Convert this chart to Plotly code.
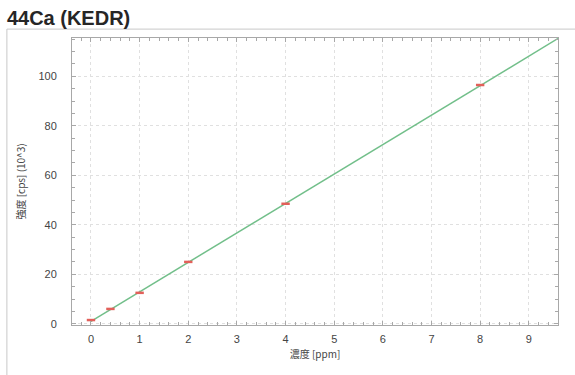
import plotly.graph_objects as go

# Calibration standards (concentration ppm, intensity cps x10^3)
std_conc = [0, 0.4, 1, 2, 4, 8]
std_intensity = [1.5, 6.0, 12.5, 25.0, 48.5, 96.5]

# Calibration line endpoints
fit_conc = [0, 9.6]
fit_intensity = [1.0, 115.3]

x_ticks = [0, 1, 2, 3, 4, 5, 6, 7, 8, 9]
y_ticks = [0, 20, 40, 60, 80, 100]

fig = go.Figure()
fig.add_trace(go.Scatter(
    x=fit_conc, y=fit_intensity, mode="lines",
    line=dict(color="#72bf8a", width=1.5), showlegend=False, hoverinfo="skip"))
fig.add_trace(go.Scatter(
    x=std_conc, y=std_intensity, mode="markers",
    marker=dict(symbol="line-ew", size=6, line=dict(color="#e2605a", width=2.5)),
    showlegend=False))

axis_common = dict(
    showline=True, linecolor="#a8a8a8", linewidth=1, mirror="ticks",
    showgrid=True, gridcolor="#e0e0e0", griddash="dot", gridwidth=1,
    ticks="inside", ticklen=4, tickcolor="#a8a8a8",
    tickfont=dict(family="Liberation Sans, Arial", size=11, color="#444444"),
    zeroline=False, automargin=False,
)

fig.update_layout(
    width=575, height=375,
    margin=dict(l=72, r=17, t=38, b=50),
    paper_bgcolor="white", plot_bgcolor="white",
    title=dict(text="44Ca (KEDR)", x=0.012, xanchor="left", y=0.953, yanchor="middle",
               font=dict(family="Liberation Sans, Arial", size=20, weight="bold", color="#262626")),
    xaxis=dict(axis_common, range=[-0.39, 9.6], tickvals=x_ticks, ticklabelstandoff=4,
               minor=dict(dtick=0.2, ticks="inside", ticklen=3, tickcolor="#a8a8a8", showgrid=False),
               title=dict(text="濃度 [ppm]", standoff=6,
                          font=dict(family="Noto Sans CJK JP", size=10, color="#444444"))),
    yaxis=dict(axis_common, range=[-0.5, 115.5], tickvals=y_ticks, ticklabelstandoff=12,
               minor=dict(dtick=5, ticks="inside", ticklen=3, tickcolor="#a8a8a8", showgrid=False),
               title=dict(text="強度 [cps] (10^3)", standoff=10,
                          font=dict(family="Noto Sans CJK JP", size=10, color="#444444"))),
    shapes=[dict(type="rect", xref="paper", yref="paper",
                 x0=-0.134, x1=1.05, y0=-0.2, y1=1.031,
                 line=dict(color="#c8c8c8", width=1), layer="below")],
)

fig.write_html("out.html", config={"displayModeBar": False},
               post_script="document.body.style.margin='0';")
